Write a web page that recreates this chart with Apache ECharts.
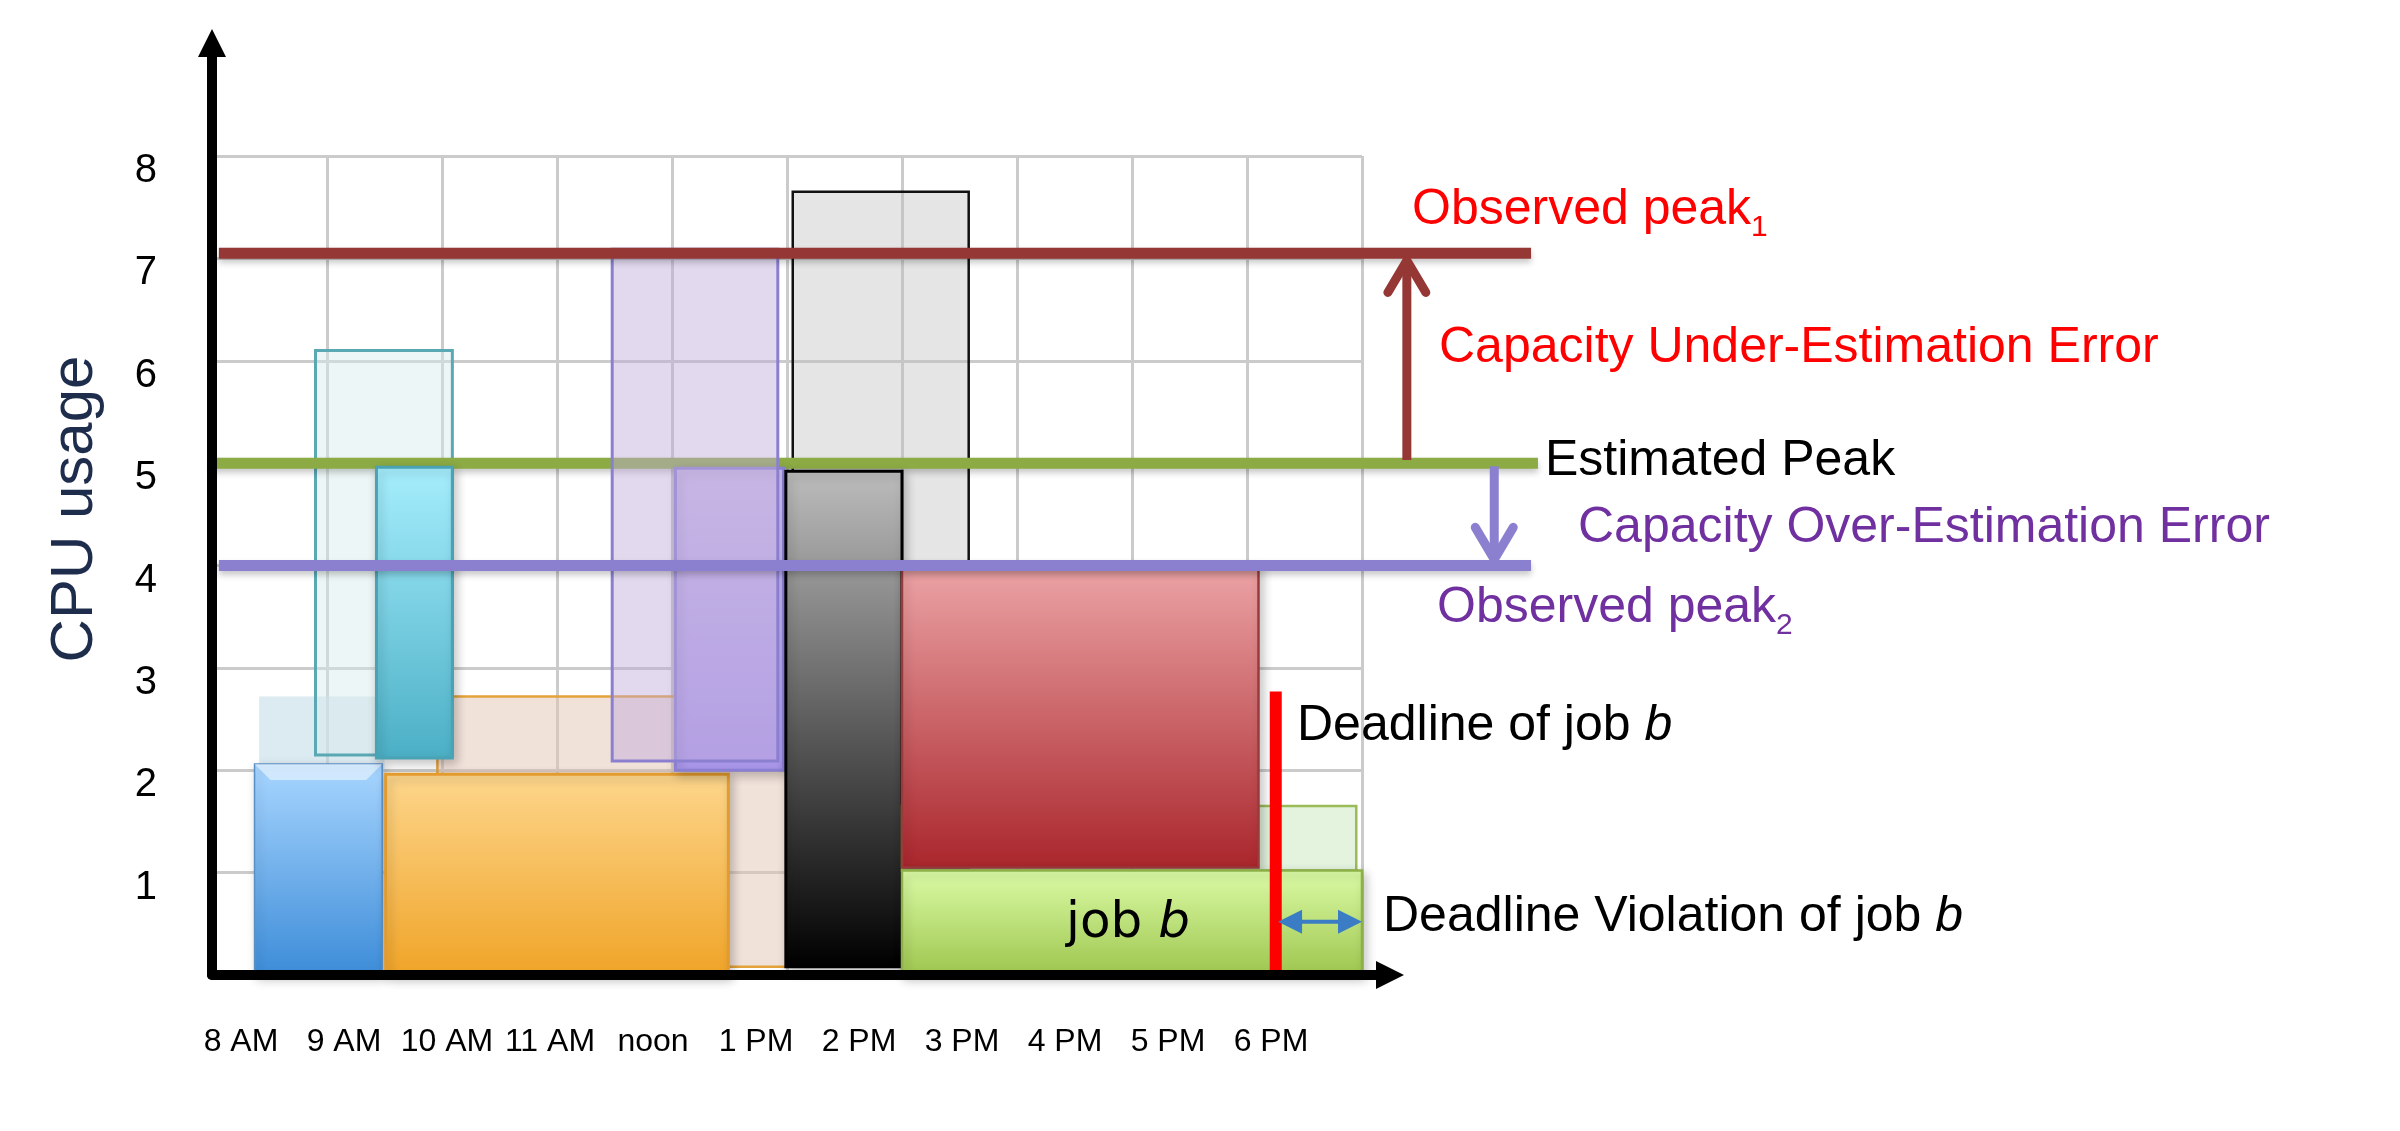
<!DOCTYPE html>
<html>
<head>
<meta charset="utf-8">
<title>CPU usage vs. time</title>
<script src="https://cdn.jsdelivr.net/npm/echarts@6/dist/echarts.min.js"></script>
<style>
  html, body { margin: 0; padding: 0; background: #fff; }
  #chart { width: 2400px; height: 1131px; }
</style>
</head>
<body>
<div id="chart"></div>
<script>
// x = hours after 8 AM (one grid column per hour), y = CPU units
const hourLabels = ['8 AM', '9 AM', '10 AM', '11 AM', 'noon', '1 PM', '2 PM', '3 PM', '4 PM', '5 PM', '6 PM'];

// jobs as [start, end, bottom, top]
const ghostBlue = [0.41, 1.50, 0.00, 2.72];
const ghostTeal = [0.90, 2.09, 2.15, 6.10];
const ghostPeach = [1.96, 5.60, 0.08, 2.72];
const ghostGray = [5.05, 6.58, 1.05, 7.65];
const ghostLavender = [3.48, 4.92, 2.09, 7.09];
const ghostGreen = [6.00, 9.95, 1.02, 1.65];
const blueJob = [0.37, 1.48, 0.00, 2.06];
const tealJob = [1.43, 2.09, 2.12, 4.96];
const orangeJob = [1.51, 4.49, 0.00, 1.96];
const purpleJob = [4.03, 4.97, 2.00, 4.95];
const blackJob = [4.99, 6.00, 0.08, 4.92];
const redJob = [6.00, 9.10, 1.05, 4.00];
const jobB = [6.00, 10.00, 0.00, 1.02];

// peak levels as [cpu, from, to]
const observedPeak1 = [7.05, 0.06, 11.47];
const estimatedPeak = [5.00, -0.01, 11.53];
const observedPeak2 = [4.00, 0.06, 11.47];

// error arrows as [x, from, to]
const underEstimation = [10.39, 5.03, 6.98];
const overEstimation = [11.15, 4.97, 4.06];

// deadline of job b as [x, bottom, top], violation as [y, from, to]
const deadline = [9.25, 0.02, 2.77];
const violation = [0.52, 9.27, 10.00];

const SANS = '"Liberation Sans", Arial, sans-serif';
const RED = '#FF0000';
const PURPLE = '#7030A0';

const chart = echarts.init(document.getElementById('chart'), null, { renderer: 'canvas' });

function gradient(top, bottom) {
  return {
    type: 'linear', x: 0, y: 0, x2: 0, y2: 1,
    colorStops: [{ offset: 0, color: top }, { offset: 1, color: bottom }],
  };
}

function box(name, rect, look, z) {
  return {
    type: 'custom',
    name,
    z,
    clip: false,
    silent: true,
    data: [rect],
    renderItem(params, api) {
      const p0 = api.coord([api.value(0), api.value(3)]);
      const p1 = api.coord([api.value(1), api.value(2)]);
      const w = p1[0] - p0[0];
      const h = p1[1] - p0[1];
      const children = [{
        type: 'rect',
        shape: { x: p0[0], y: p0[1], width: w, height: h },
        style: {
          fill: look.fill,
          stroke: look.stroke || null,
          lineWidth: look.lineWidth || 0,
          shadowBlur: look.shadow ? 10 : 0,
          shadowOffsetX: look.shadow ? 3 : 0,
          shadowOffsetY: look.shadow ? 4 : 0,
          shadowColor: 'rgba(0,0,0,0.22)',
        },
      }];
      if (look.bevel) {
        // glossy top edge like the blue job
        const b = 16;
        children.push({
          type: 'polygon',
          shape: { points: [[p0[0], p0[1]], [p1[0], p0[1]], [p1[0] - b, p0[1] + b], [p0[0] + b, p0[1] + b]] },
          style: { fill: 'rgba(255,255,255,0.5)' },
        });
      }
      return { type: 'group', children };
    },
  };
}

function peakLine(name, peak, color, z) {
  return {
    type: 'custom',
    name,
    z,
    clip: false,
    silent: true,
    data: [peak],
    renderItem(params, api) {
      const a = api.coord([api.value(1), api.value(0)]);
      const b = api.coord([api.value(2), api.value(0)]);
      return {
        type: 'line',
        shape: { x1: a[0], y1: a[1], x2: b[0], y2: b[1] },
        style: {
          stroke: color, lineWidth: 11,
          shadowBlur: 6, shadowOffsetY: 4, shadowColor: 'rgba(0,0,0,0.22)',
        },
      };
    },
  };
}

function errorArrow(name, arrow, color, z) {
  return {
    type: 'custom',
    name,
    z,
    clip: false,
    silent: true,
    data: [arrow],
    renderItem(params, api) {
      const a = api.coord([api.value(0), api.value(1)]);
      const b = api.coord([api.value(0), api.value(2)]);
      const dir = b[1] > a[1] ? 1 : -1;
      const style = { stroke: color, lineWidth: 9, lineCap: 'round', lineJoin: 'round', fill: null };
      return {
        type: 'group',
        children: [
          { type: 'line', shape: { x1: a[0], y1: a[1], x2: b[0], y2: b[1] }, style: { stroke: color, lineWidth: 9 } },
          { type: 'polyline', shape: { points: [[b[0] - 19, b[1] - dir * 32], [b[0], b[1]], [b[0] + 19, b[1] - dir * 32]] }, style },
        ],
      };
    },
  };
}

const deadlineSeries = {
  type: 'custom',
  name: 'deadline',
  z: 6,
  clip: false,
  silent: true,
  data: [deadline],
  renderItem(params, api) {
    const a = api.coord([api.value(0), api.value(1)]);
    const b = api.coord([api.value(0), api.value(2)]);
    return { type: 'line', shape: { x1: a[0], y1: a[1], x2: b[0], y2: b[1] }, style: { stroke: RED, lineWidth: 12 } };
  },
};

const violationSeries = {
  type: 'custom',
  name: 'violation',
  z: 7,
  clip: false,
  silent: true,
  data: [violation],
  renderItem(params, api) {
    const a = api.coord([api.value(1), api.value(0)]);
    const b = api.coord([api.value(2), api.value(0)]);
    const c = '#3B7DC4';
    return {
      type: 'group',
      children: [
        { type: 'line', shape: { x1: a[0] + 10, y1: a[1], x2: b[0] - 10, y2: b[1] }, style: { stroke: c, lineWidth: 4 } },
        { type: 'polygon', shape: { points: [[a[0], a[1]], [a[0] + 24, a[1] - 12], [a[0] + 24, a[1] + 12]] }, style: { fill: c } },
        { type: 'polygon', shape: { points: [[b[0], b[1]], [b[0] - 24, b[1] - 12], [b[0] - 24, b[1] + 12]] }, style: { fill: c } },
      ],
    };
  },
};

function label(x, y, text, color, rich) {
  return {
    type: 'text',
    x,
    y,
    silent: true,
    z: 20,
    style: {
      text,
      fill: color,
      font: '50px ' + SANS,
      verticalAlign: 'middle',
      textVerticalAlign: 'middle',
      rich: rich || {},
    },
  };
}

function subRich(color) {
  return {
    m: { fontSize: 50, fontFamily: SANS, fill: color },
    s: { fontSize: 30, fontFamily: SANS, fill: color, padding: [36, 0, 0, 0] },
  };
}

const jobRich = {
  t: { fontSize: 50, fontFamily: SANS, fill: '#000' },
  i: { fontSize: 50, fontFamily: SANS, fill: '#000', fontStyle: 'italic' },
};

const hidden = { axisLine: { show: false }, axisTick: { show: false }, axisLabel: { show: false }, splitLine: { show: false } };

const option = {
  backgroundColor: '#fff',
  animation: false,
  grid: [
    { left: 212, right: 1038, top: 156, bottom: 156 },  // plot area with the grid lines
    { left: 212, right: 1010, top: 43, bottom: 156 },   // arrowed axes
    { left: 241, right: 1129, top: 900, bottom: 131 },  // hour labels
    { left: 212, right: 1038, top: 171, bottom: 141 },  // cpu labels (sit a little below their lines)
  ],
  xAxis: [
    {
      gridIndex: 0, type: 'value', min: 0, max: 10, interval: 1,
      axisLine: { show: false }, axisTick: { show: false }, axisLabel: { show: false },
      splitLine: { show: true, lineStyle: { color: '#CBCBCB', width: 3 } },
    },
    {
      gridIndex: 1, type: 'value', min: 0, max: 1, z: 10,
      axisLine: { show: true, symbol: ['none', 'triangle'], symbolSize: [28, 28], lineStyle: { color: '#000', width: 10 } },
      axisTick: { show: false }, axisLabel: { show: false }, splitLine: { show: false },
    },
    {
      gridIndex: 2, type: 'category', data: hourLabels, boundaryGap: false,
      axisLine: { show: false }, axisTick: { show: false },
      axisLabel: { interval: 0, margin: 26, fontSize: 32, fontFamily: SANS, color: '#000' },
    },
    { gridIndex: 3, type: 'value', min: 0, max: 10, ...hidden },
  ],
  yAxis: [
    {
      gridIndex: 0, type: 'value', min: 0, max: 8, interval: 1,
      axisLine: { show: false }, axisTick: { show: false }, axisLabel: { show: false },
      splitLine: { show: true, lineStyle: { color: '#CBCBCB', width: 3 } },
    },
    {
      gridIndex: 1, type: 'value', min: 0, max: 1, z: 10,
      name: 'CPU usage', nameLocation: 'middle', nameRotate: 90, nameGap: 107,
      nameTextStyle: { fontSize: 60, fontFamily: SANS, color: '#1F2D4D' },
      axisLine: { show: true, symbol: ['none', 'triangle'], symbolSize: [28, 28], lineStyle: { color: '#000', width: 10 } },
      axisTick: { show: false }, axisLabel: { show: false }, splitLine: { show: false },
    },
    { gridIndex: 2, type: 'value', show: false },
    {
      gridIndex: 3, type: 'value', min: 0, max: 8, interval: 1,
      axisLine: { show: false }, axisTick: { show: false }, splitLine: { show: false },
      axisLabel: {
        margin: 55, fontSize: 40, fontFamily: SANS, color: '#000',
        formatter: (v) => (v === 0 ? '' : String(v)),
      },
    },
  ],
  series: [
    // jobs behind the estimated-peak line
    box('ghostGray', ghostGray, { fill: 'rgba(190,190,190,0.4)', stroke: '#111', lineWidth: 2.5 }, 2),
    box('ghostPeach', ghostPeach, { fill: 'rgba(226,196,180,0.5)', stroke: '#E3A23A', lineWidth: 2.5 }, 2),
    box('ghostBlue', ghostBlue, { fill: 'rgba(196,220,232,0.6)' }, 2),
    box('ghostTeal', ghostTeal, { fill: 'rgba(214,236,236,0.45)', stroke: '#5AA8B4', lineWidth: 3 }, 2),
    peakLine('Estimated Peak', estimatedPeak, '#8CAB44', 3),
    // jobs in front
    box('blueJob', blueJob, { fill: gradient('#A8D6FF', '#3D8CD8'), stroke: '#5A8FC6', lineWidth: 1.5, shadow: true, bevel: true }, 4),
    box('orangeJob', orangeJob, { fill: gradient('#FDD68C', '#F0A428'), stroke: '#E49B2E', lineWidth: 3, shadow: true }, 4),
    box('tealJob', tealJob, { fill: gradient('#A6EEFD', '#4BAFC5'), stroke: '#4AA3B5', lineWidth: 3, shadow: true }, 4),
    box('purpleJob', purpleJob, { fill: gradient('#CFC0EC', '#A996EA'), stroke: '#8A7FD2', lineWidth: 3, shadow: true }, 4),
    box('ghostLavender', ghostLavender, { fill: 'rgba(190,170,220,0.45)', stroke: '#8B80D0', lineWidth: 3 }, 4),
    box('blackJob', blackJob, { fill: gradient('#BDBDBD', '#000000'), stroke: '#000', lineWidth: 3, shadow: true }, 4),
    box('ghostGreen', ghostGreen, { fill: 'rgba(200,232,190,0.5)', stroke: '#9BBB59', lineWidth: 2.5 }, 4),
    box('redJob', redJob, { fill: gradient('#ECA4A6', '#A9262C'), stroke: '#9B3A3A', lineWidth: 2.5, shadow: true }, 4),
    box('jobB', jobB, { fill: gradient('#DBFBA6', '#9EC54E'), stroke: '#8DB04A', lineWidth: 2.5, shadow: true }, 4),
    // observed peaks and errors
    peakLine('Observed peak1', observedPeak1, '#953735', 5),
    peakLine('Observed peak2', observedPeak2, '#8B80D0', 5),
    errorArrow('Under-Estimation', underEstimation, '#953735', 6),
    errorArrow('Over-Estimation', overEstimation, '#8B80D0', 6),
    deadlineSeries,
    violationSeries,
  ],
  graphic: [
    label(1412, 210, '{m|Observed peak}{s|1}', RED, subRich(RED)),
    label(1439, 348, 'Capacity Under-Estimation Error', RED),
    label(1545, 461, 'Estimated Peak', '#000'),
    label(1578, 528, 'Capacity Over-Estimation Error', PURPLE),
    label(1437, 608, '{m|Observed peak}{s|2}', PURPLE, subRich(PURPLE)),
    label(1297, 726, '{t|Deadline of job }{i|b}', '#000', jobRich),
    label(1383, 917, '{t|Deadline Violation of job }{i|b}', '#000', jobRich),
    {
      type: 'text',
      x: 1128,
      y: 924,
      silent: true,
      z: 20,
      style: {
        text: '{t|job }{i|b}',
        fill: '#000',
        align: 'center',
        textAlign: 'center',
        verticalAlign: 'middle',
        textVerticalAlign: 'middle',
        rich: {
          t: { fontSize: 50, fontFamily: '"DejaVu Sans", Verdana, sans-serif', fill: '#000' },
          i: { fontSize: 50, fontFamily: '"DejaVu Sans", Verdana, sans-serif', fill: '#000', fontStyle: 'italic' },
        },
      },
    },
  ],
};

chart.setOption(option);
</script>
</body>
</html>
